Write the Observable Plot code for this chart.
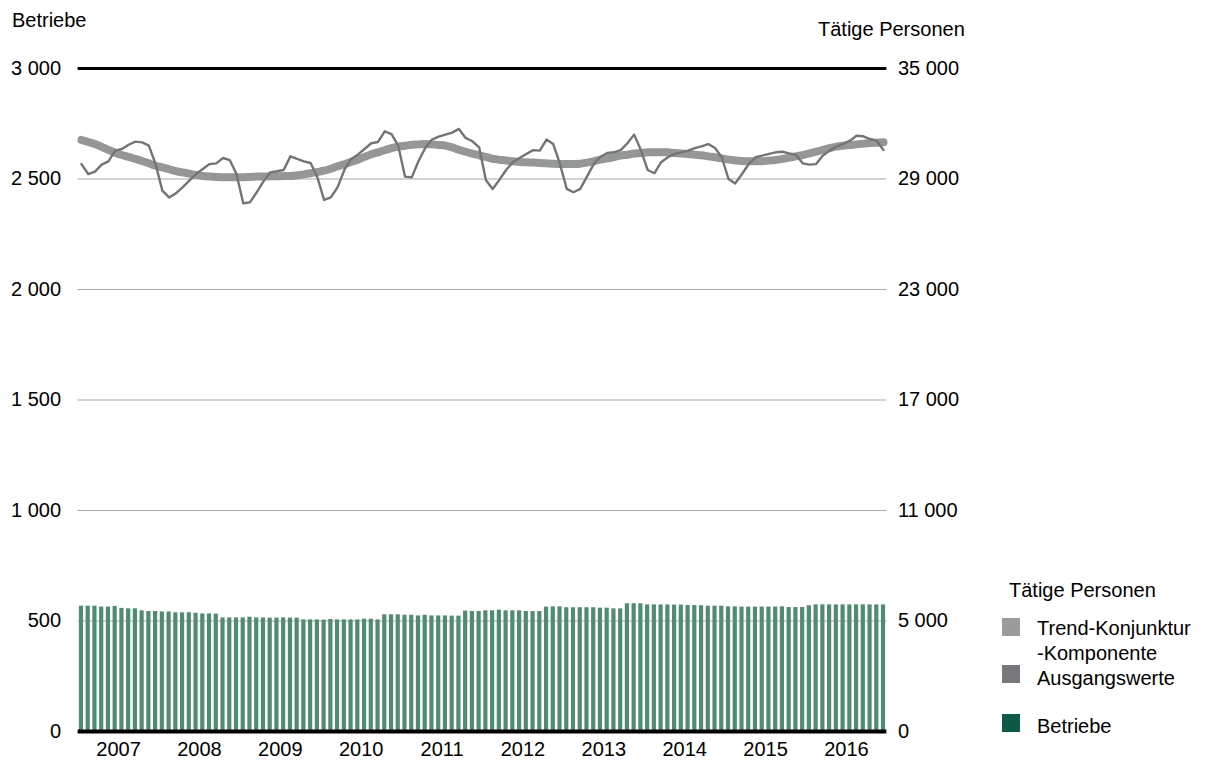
<!DOCTYPE html>
<html>
<head>
<meta charset="utf-8">
<script src="https://cdn.jsdelivr.net/npm/d3@7"></script>
<script src="https://cdn.jsdelivr.net/npm/@observablehq/plot@0.6"></script>
<style>
  body { margin: 0; background: #fff; font-family: "Liberation Sans", Arial, sans-serif; }
  #wrap { position: relative; width: 1210px; height: 771px; }
  #chart { position: absolute; left: 0; top: 0; }
  .t { position: absolute; font-size: 20px; line-height: 20px; color: #000; white-space: nowrap; }
  .sw { position: absolute; width: 18px; height: 18px; }
</style>
</head>
<body>
<div id="wrap">
  <div id="chart"></div>
  <div class="t" style="left:12px; top:10px">Betriebe</div>
  <div class="t" style="left:818px; top:19px">Tätige Personen</div>
  <div id="legend"></div>
</div>
<script>
// ---- data ----
const years = ["2007","2008","2009","2010","2011","2012","2013","2014","2015","2016"];

// Betriebe (monthly, Jan 2007 – Dec 2016)
const betriebe = [
  567,567,567,563,563,566,557,555,555,546,543,543,
  541,541,537,537,537,535,532,532,531,514,514,514,
  514,517,514,514,513,513,514,513,513,505,505,505,
  504,507,505,505,505,505,508,508,505,528,528,528,
  526,526,523,526,523,523,523,522,522,545,543,543,
  546,546,549,546,546,546,543,543,543,563,564,564,
  560,560,560,560,560,558,558,555,555,578,578,578,
  573,573,573,573,572,572,570,570,569,567,567,567,
  564,564,563,563,563,563,563,563,564,561,561,561,
  569,573,573,573,573,573,573,573,573,573,573,573
];

// Tätige Personen – Ausgangswerte
const ausgangswerte = [
  29810,29270,29400,29780,29960,30540,30630,30860,31030,30990,30810,29810,
  28370,28000,28220,28550,28910,29270,29540,29810,29850,30140,30030,29270,
  27680,27730,28280,28870,29360,29420,29490,30230,30090,29960,29870,29090,
  27860,28000,28550,29490,30090,30320,30630,30940,31010,31590,31440,30810,
  29130,29090,29960,30680,31140,31300,31410,31520,31720,31230,31050,30720,
  28950,28460,28950,29490,29910,30140,30360,30570,30540,31140,30900,29810,
  28460,28280,28460,29130,29810,30210,30410,30450,30570,30940,31410,30570,
  29490,29310,29910,30180,30360,30450,30540,30680,30770,30900,30680,30180,
  29000,28760,29270,29810,30180,30270,30360,30450,30480,30390,30320,29850,
  29780,29810,30270,30540,30760,30900,31080,31350,31320,31170,31080,30570
];

// Tätige Personen – Trend-Konjunktur-Komponente
const trend = [
  31120,31010,30900,30740,30580,30430,30300,30200,30090,29980,29850,29720,
  29630,29530,29430,29360,29290,29220,29160,29130,29110,29090,29090,29090,
  29090,29110,29130,29130,29150,29150,29160,29160,29200,29250,29310,29380,
  29450,29560,29690,29800,29920,30050,30200,30340,30450,30560,30680,30760,
  30810,30860,30880,30900,30880,30850,30810,30720,30590,30480,30380,30290,
  30200,30100,30050,30000,29960,29920,29910,29890,29870,29850,29830,29820,
  29820,29820,29830,29890,29960,30050,30120,30190,30270,30320,30380,30410,
  30450,30450,30450,30450,30410,30390,30360,30320,30290,30230,30180,30120,
  30050,30010,29980,29960,29960,29960,30000,30030,30090,30160,30230,30300,
  30390,30480,30580,30680,30760,30810,30850,30880,30920,30960,30970,30990
];

const leftTicks = [0, 500, 1000, 1500, 2000, 2500, 3000];
const leftTickLabels = ["0", "500", "1 000", "1 500", "2 000", "2 500", "3 000"];
const rightTickLabels = ["0", "5 000", "11 000", "17 000", "23 000", "29 000", "35 000"];
const gridTicks = [500, 1000, 1500, 2000, 2500];

const legendItems = [
  {label: "Trend-Konjunktur", label2: "-Komponente", color: "#9a9c9c"},
  {label: "Ausgangswerte", color: "#77787b"},
  {label: "Betriebe", color: "#0c5a47"}
];

// ---- build ----
// right axis (Tätige Personen) relates to left axis (Betriebe): P = 12·B − 1000
const toLeft = p => (p + 1000) / 12;

const barData = betriebe.map((v, i) => ({i, v}));
const rawData = ausgangswerte.map((p, i) => ({i, v: toLeft(p)}));
const trendData = trend.map((p, i) => ({i, v: toLeft(p)}));
const yearPos = years.map((y, k) => ({pos: 5.5 + 12 * k, label: y}));

const chart = Plot.plot({
  width: 1210,
  height: 771,
  marginLeft: 77.6,
  marginRight: 323.6,
  marginTop: 68,
  marginBottom: 40,
  x: {type: "linear", domain: [-0.5, 119.5]},
  y: {domain: [0, 3000]},
  style: {fontFamily: "'Liberation Sans', Arial, sans-serif", fontSize: "20px", color: "#000", background: "#fff", overflow: "visible"},
  marks: [
    Plot.ruleY(gridTicks, {stroke: "#a9a9a9", strokeWidth: 1}),
    Plot.rectY(barData, {x1: d => d.i - 0.31, x2: d => d.i + 0.31, y: "v", fill: "#528c70"}),
    Plot.line(trendData, {x: "i", y: "v", stroke: "#959797", strokeWidth: 8, strokeLinecap: "round", strokeLinejoin: "round", curve: "catmull-rom"}),
    Plot.line(rawData, {x: "i", y: "v", stroke: "#737477", strokeWidth: 2.4, strokeLinejoin: "round"}),
    Plot.ruleY([3000], {stroke: "#000", strokeWidth: 3}),
    Plot.ruleY([0], {stroke: "#000", strokeWidth: 4}),
    Plot.axisY({anchor: "left", ticks: leftTicks, tickSize: 0, tickPadding: 17,
      tickFormat: d => leftTickLabels[leftTicks.indexOf(d)], label: null, fill: "#000"}),
    Plot.axisY({anchor: "right", ticks: leftTicks, tickSize: 0, tickPadding: 11,
      tickFormat: d => rightTickLabels[leftTicks.indexOf(d)], label: null, fill: "#000"}),
    Plot.axisX({ticks: yearPos.map(d => d.pos), tickSize: 0, tickPadding: 10,
      tickFormat: d => yearPos.find(y => y.pos === d).label, label: null, fill: "#000"})
  ]
});
document.getElementById("chart").appendChild(chart);

// ---- legend ----
const lg = document.getElementById("legend");
function addText(txt, left, top) {
  const el = document.createElement("div");
  el.className = "t";
  el.style.left = left + "px";
  el.style.top = top + "px";
  el.textContent = txt;
  lg.appendChild(el);
}
addText("Tätige Personen", 1009, 580);
const swTops = [618, 665, 714];
const txtTops = [618, 668, 716];
legendItems.forEach((it, k) => {
  const sw = document.createElement("div");
  sw.className = "sw";
  sw.style.left = "1002px";
  sw.style.top = swTops[k] + "px";
  sw.style.background = it.color;
  lg.appendChild(sw);
  addText(it.label, 1037, txtTops[k]);
  if (it.label2) addText(it.label2, 1037, txtTops[k] + 25);
});
</script>
</body>
</html>
